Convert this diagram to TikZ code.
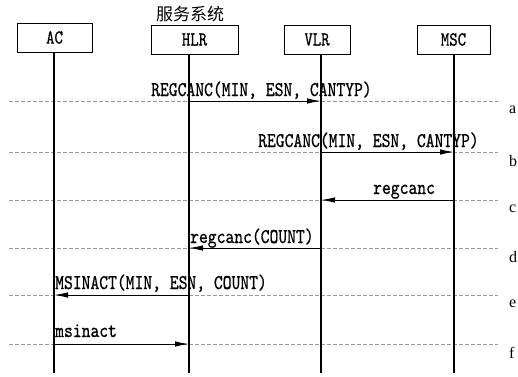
\documentclass[tikz,border=0pt]{standalone}
\usepackage{fontspec}
\usetikzlibrary{arrows.meta}
\newfontfamily\msgfont{lmmono10-regular.otf}[FakeStretch=0.8, FakeBold=0.6]
\newfontfamily\cjk{Noto Sans CJK SC}
\setmainfont{Liberation Serif}
\tikzset{
  box/.style={draw, line width=0.9pt, minimum height=29pt, inner sep=0pt, font=\msgfont\fontsize{20}{20}\selectfont},
  life/.style={line width=1.2pt},
  dashline/.style={draw=black!40, line width=0.5pt, dash pattern=on 4pt off 2pt},
  msg/.style={line width=1pt, -{Latex[length=14pt, width=5.5pt]}},
  mlabel/.style={anchor=base west, inner sep=0pt, font=\msgfont\fontsize{21}{21}\selectfont},
  rowlabel/.style={anchor=west, inner sep=0pt, font=\fontsize{16}{16}\selectfont}
}
\begin{document}
\begin{tikzpicture}[x=1pt, y=-1pt]
\useasboundingbox[fill=white] (0,0) rectangle (518,376);
% boxes
\node[box, minimum width=75pt] (ac) at (54.5,37.5) {AC};
\node[box, minimum width=87pt] (hlr) at (194.5,39.5) {HLR};
\node[box, minimum width=66pt] (vlr) at (317,39.5) {VLR};
\node[box, minimum width=73pt] (msc) at (453.5,39.5) {MSC};
\node[font=\cjk\fontsize{17}{17}\selectfont, inner sep=0pt] (sys) at (190,14) {服务系统};
% lifeline x positions
\coordinate (xac) at (54,0);
\coordinate (xhlr) at (189,0);
\coordinate (xvlr) at (321,0);
\coordinate (xmsc) at (454,0);
\coordinate (bot) at (0,373);
\coordinate (xl) at (9,0);
\coordinate (xr) at (498,0);
% rows
\coordinate (ra) at (0,101);
\coordinate (rb) at (0,152);
\coordinate (rc) at (0,200);
\coordinate (rd) at (0,248);
\coordinate (re) at (0,295);
\coordinate (rf) at (0,344);
% dashed guide lines and row letters
\foreach \r/\t in {ra/a, rb/b, rc/c, rd/d, re/e, rf/f}{
  \draw[dashline] (xl |- \r) -- (xr |- \r);
  \node[rowlabel] (lab\t) at ([yshift=-9pt]509,0 |- \r) {\t};
}
% lifelines
\draw[life] (xac |- ac.south) -- (xac |- bot);
\draw[life] (xhlr |- hlr.south) -- (xhlr |- bot);
\draw[life] (xvlr |- vlr.south) -- (xvlr |- bot);
\draw[life] (xmsc |- msc.south) -- (xmsc |- bot);
% messages
\draw[msg] (xhlr |- ra) -- (xvlr |- ra);
\node[mlabel] (ma) at (151,96) {REGCANC(MIN, ESN, CANTYP)};
\draw[msg] (xvlr |- rb) -- (xmsc |- rb);
\node[mlabel] (mb) at (258,147) {REGCANC(MIN, ESN, CANTYP)};
\draw[msg] (xmsc |- rc) -- (xvlr |- rc);
\node[mlabel] (mc) at (373,194) {regcanc};
\draw[msg] (xvlr |- rd) -- (xhlr |- rd);
\node[mlabel] (md) at (190,243) {regcanc(COUNT)};
\draw[msg] (xhlr |- re) -- (xac |- re);
\node[mlabel] (me) at (55,289) {MSINACT(MIN, ESN, COUNT)};
\draw[msg] (xac |- rf) -- (xhlr |- rf);
\node[mlabel] (mf) at (55,337) {msinact};
\end{tikzpicture}
\end{document}
